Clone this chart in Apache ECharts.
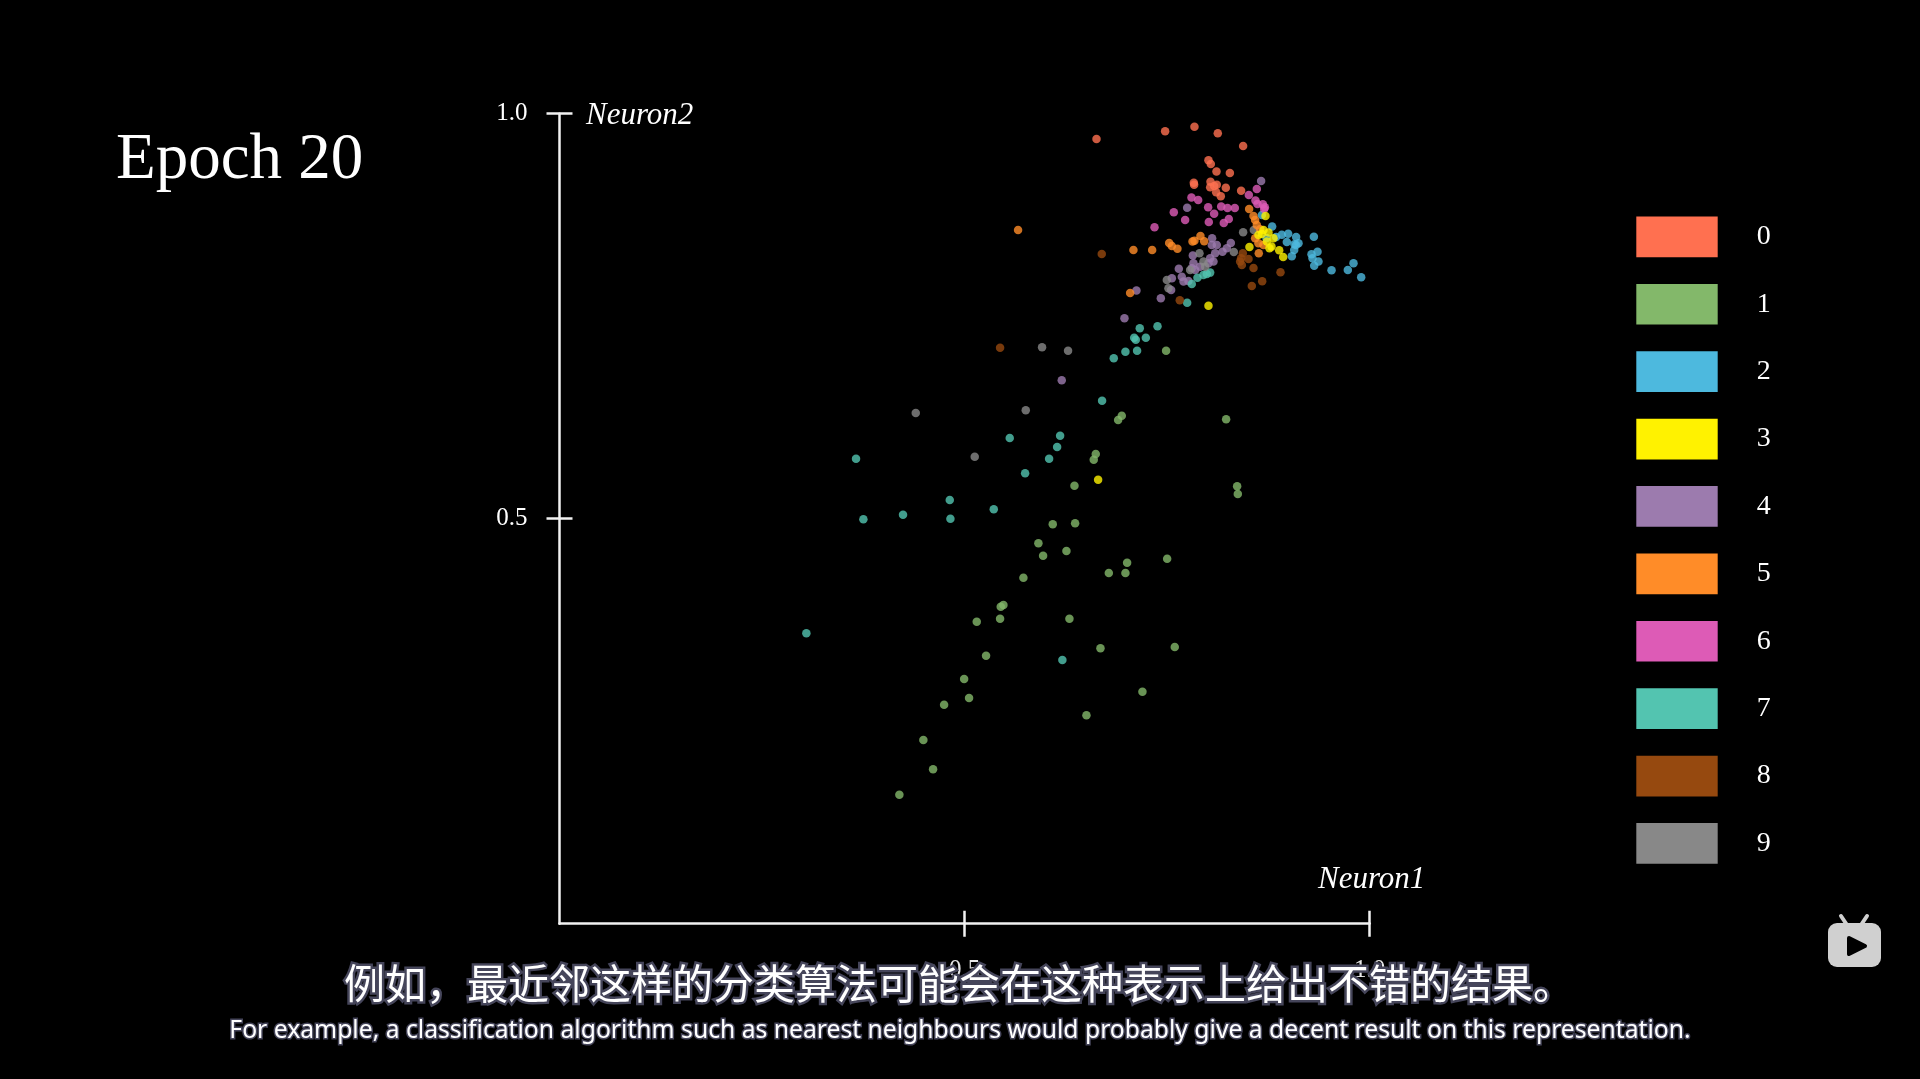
<!DOCTYPE html>
<html><head><meta charset="utf-8">
<style>html,body{margin:0;padding:0;background:#000}#c{width:1920px;height:1079px}</style>
<script src="https://cdn.jsdelivr.net/npm/echarts@6/dist/echarts.min.js"></script>
</head><body><div id="c"></div>
<script>
const classNames=['0','1','2','3','4','5','6','7','8','9'];
const legendColors=['#FF7050','#83B86A','#4DB9DE','#FFF200','#9C7BAE','#FF8C28','#DD5BB6','#53C4B0','#96490F','#888888'];
const tickValues=[0.5,1.0];
const class0=[[.6628,.9688],[.7475,.9783],[.7837,.9840],[.8125,.9758],[.8438,.9602],[.8010,.9425],[.8039,.9379],[.8109,.9285],[.8274,.9268],[.7829,.9149],[.7833,.9124],[.8035,.9161],[.8113,.9124],[.8031,.9091],[.8080,.9108],[.8224,.9087],[.8105,.9030],[.8162,.8980],[.8413,.9050]];
const class1=[[.7487,.7074],[.6940,.6272],[.6895,.6219],[.8228,.6227],[.6619,.5799],[.6594,.5729],[.6356,.5408],[.8364,.5400],[.8372,.5305],[.6088,.4931],[.6364,.4943],[.5911,.4696],[.6257,.4601],[.5969,.4544],[.7500,.4507],[.7006,.4457],[.6780,.4330],[.6985,.4330],[.5726,.4272],[.5479,.3934],[.5446,.3914],[.5150,.3729],[.5438,.3766],[.6294,.3766],[.6677,.3400],[.7594,.3416],[.5265,.3309],[.4994,.3021],[.5055,.2786],[.4747,.2704],[.7195,.2865],[.6504,.2572],[.4491,.2268],[.4611,.1906],[.4195,.1593]];
const class2=[[.8796,.8606],[.8994,.8519],[.8915,.8507],[.8845,.8478],[.9092,.8478],[.8977,.8416],[.9121,.8400],[.9072,.8388],[.9092,.8379],[.9068,.8318],[.9039,.8240],[.9311,.8482],[.9356,.8297],[.9282,.8264],[.9294,.8215],[.9368,.8174],[.9315,.8124],[.9529,.8067],[.9730,.8071],[.9800,.8153],[.9895,.7980],[.8726,.8466],[.8669,.8750]];
const class3=[[.8714,.8737],[.8516,.8355],[.8883,.8314],[.8932,.8231],[.8010,.7630],[.8669,.8515],[.8627,.8503],[.8751,.8532],[.8813,.8462],[.8763,.8338],[.8788,.8359],[.8689,.8565],[.8730,.8421],[.6648,.5482]];
const class4=[[.8660,.9169],[.7747,.8840],[.8055,.8462],[.8051,.8379],[.8113,.8379],[.8286,.8404],[.8183,.8297],[.8237,.8338],[.8092,.8277],[.7817,.8248],[.7644,.8087],[.7825,.8153],[.7907,.8112],[.8010,.8153],[.8072,.8174],[.7804,.8091],[.7846,.8071],[.8031,.8215],[.7558,.7968],[.7681,.7988],[.7702,.7927],[.7763,.7935],[.7549,.7824],[.7121,.7816],[.7422,.7721],[.6973,.7474],[.6199,.6708]];
const class5=[[.8512,.8824],[.8566,.8737],[.8586,.8688],[.8607,.8626],[.8648,.8573],[.8586,.8462],[.8627,.8400],[.8689,.8379],[.8631,.8277],[.7525,.8404],[.7558,.8367],[.7627,.8334],[.7084,.8318],[.7315,.8318],[.7813,.8421],[.7837,.8433],[.7911,.8491],[.7957,.8425],[.7043,.7787],[.5660,.8564]];
const class6=[[.7800,.8964],[.7883,.8935],[.7582,.8783],[.7722,.8688],[.7344,.8598],[.8006,.8844],[.8080,.8766],[.8014,.8663],[.8167,.8853],[.8245,.8836],[.8335,.8836],[.8261,.8700],[.8199,.8651],[.8508,.8997],[.8607,.9071],[.8590,.8927],[.8615,.8886],[.8681,.8881],[.8706,.8844],[.8697,.8824]];
const class7=[[.7804,.7898],[.7747,.7667],[.7874,.7976],[.7948,.8009],[.8031,.8038],[.7990,.8021],[.7381,.7375],[.7162,.7351],[.7093,.7235],[.7237,.7235],[.7113,.7210],[.6985,.7062],[.7129,.7074],[.6841,.6980],[.6697,.6457],[.6179,.6025],[.6142,.5885],[.6043,.5741],[.5557,.5996],[.5747,.5560],[.3660,.5741],[.4817,.5231],[.4240,.5050],[.5360,.5116],[.3751,.4992],[.4825,.5000],[.3047,.3585],[.6207,.3256]];
const class8=[[.6693,.8268],[.8434,.8277],[.8413,.8215],[.8401,.8174],[.8504,.8207],[.8422,.8133],[.8566,.8095],[.8899,.8042],[.8673,.7931],[.8545,.7873],[.7656,.7696],[.5438,.7111]];
const class9=[[.8438,.8536],[.8570,.8565],[.8323,.8293],[.7899,.8277],[.7948,.8174],[.7969,.8112],[.7784,.8071],[.7496,.7947],[.7516,.7844],[.5956,.7116],[.6277,.7074],[.4397,.6305],[.5755,.6338],[.5125,.5766]];
const classData=[class0,class1,class2,class3,class4,class5,class6,class7,class8,class9];
const subtitleZh='例如，最近邻这样的分类算法可能会在这种表示上给出不错的结果。';
const subtitleEn='For example, a classification algorithm such as nearest neighbours would probably give a decent result on this representation.';
const serif='"Liberation Serif", serif';
const seriesZ={0:3,1:3,2:3,3:6,4:3,5:5,6:3,7:3,8:3,9:4};
const rect={left:559.5,top:113.7,width:810.2,height:810};
const lineS={color:'#f2f2f2',width:2.5};
const chart=echarts.init(document.getElementById('c'),null,{renderer:'canvas'});
const fmt=v=>v.toFixed(1);
const txt=(x,y,text,font,extra)=>({type:'text',z:50,x,y,style:Object.assign({text,font,fill:'#fff',textAlign:'left',textVerticalAlign:'middle'},extra||{})});
chart.setOption({
 backgroundColor:'#000',animation:false,
 grid:[Object.assign({},rect),Object.assign({},rect)],
 xAxis:[
  {type:'value',gridIndex:0,min:0,max:1,interval:.5,splitLine:{show:false},
   axisLine:{show:true,onZero:false,lineStyle:lineS},
   axisTick:{show:true,length:13,lineStyle:lineS,customValues:tickValues},
   axisLabel:{show:true,color:'#e8e8e8',fontFamily:serif,fontSize:25,margin:34,customValues:tickValues,formatter:fmt}},
  {type:'value',gridIndex:1,min:0,max:1,interval:.5,splitLine:{show:false},
   axisLine:{show:false},axisLabel:{show:false},
   axisTick:{show:true,inside:true,length:13,lineStyle:lineS,customValues:tickValues}}
 ],
 yAxis:[
  {type:'value',gridIndex:0,min:0,max:1,interval:.5,splitLine:{show:false},
   axisLine:{show:true,onZero:false,lineStyle:lineS},
   axisTick:{show:true,length:13,lineStyle:lineS,customValues:tickValues},
   axisLabel:{show:true,color:'#fff',fontFamily:serif,fontSize:25,margin:32,padding:[8,0,0,0],customValues:tickValues,formatter:fmt}},
  {type:'value',gridIndex:1,min:0,max:1,interval:.5,splitLine:{show:false},
   axisLine:{show:false},axisLabel:{show:false},
   axisTick:{show:true,inside:true,length:13,lineStyle:lineS,customValues:tickValues}}
 ],
 legend:{orient:'vertical',left:1636.3,top:216.5,padding:0,itemWidth:81.4,itemHeight:40.7,itemGap:26.7,icon:'rect',
  selectedMode:false,data:classNames,itemStyle:{opacity:1},
  textStyle:{color:'#fff',fontFamily:serif,fontSize:28,padding:[5,0,0,34]}},
 series:classNames.map((n,i)=>({name:n,type:'scatter',xAxisIndex:0,yAxisIndex:0,data:classData[i],symbolSize:8.5,z:seriesZ[i],
   itemStyle:{color:legendColors[i],opacity:.8},silent:true})),
 graphic:[
  txt(116,161,'Epoch 20','65px '+serif),
  txt(586,116,'Neuron2','italic 31px '+serif),
  txt(1318,880,'Neuron1','italic 31px '+serif),
  {type:'text',z:60,x:959,y:983,style:{text:subtitleZh,font:'41px "Noto Sans CJK SC"',fill:'#fff',stroke:'#45455a',lineWidth:5,textAlign:'center',textVerticalAlign:'middle'}},
  {type:'text',z:60,x:960,y:1031,style:{text:subtitleEn,font:'24.7px "Noto Sans"',fill:'#fff',stroke:'#45455a',lineWidth:3,textAlign:'center',textVerticalAlign:'middle'}},
  {type:'rect',z:50,shape:{x:1828,y:923,width:53,height:44,r:9},style:{fill:'#d0d0d0'}},
  {type:'line',z:50,shape:{x1:1841,y1:916,x2:1847,y2:925},style:{stroke:'#d0d0d0',lineWidth:4,lineCap:'round'}},
  {type:'line',z:50,shape:{x1:1867,y1:916,x2:1861,y2:925},style:{stroke:'#d0d0d0',lineWidth:4,lineCap:'round'}},
  {type:'polygon',z:51,shape:{points:[[1849,938],[1865,946],[1849,954]]},style:{fill:'#000',stroke:'#000',lineWidth:4,lineJoin:'round'}}
 ]
});
</script></body></html>
